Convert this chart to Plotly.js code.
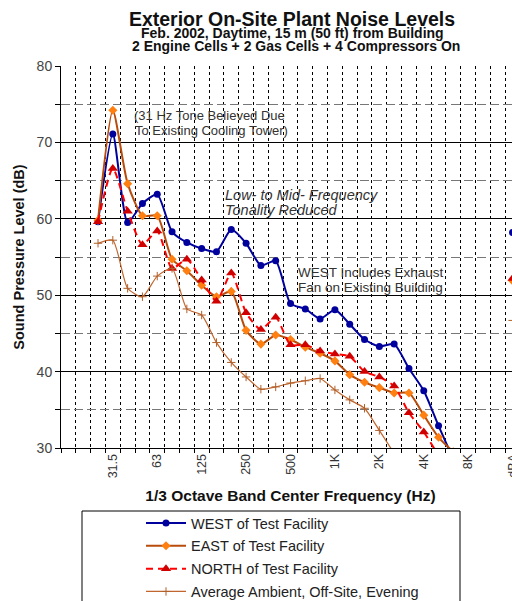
<!DOCTYPE html>
<html><head><meta charset="utf-8">
<script src="https://cdn.plot.ly/plotly-3.0.1.min.js"></script>
<style>html,body{margin:0;padding:0;overflow:hidden;background:#fff}</style>
</head><body><div id="chart"></div>
<script>
const bands = ['16','20','25','31.5','40','50','63','80','100','125','160','200','250','315','400','500','630','800','1K','1.25K','1.6K','2K','2.5K','3.15K','4K','5K','6.3K','8K','10K','12.5K','dBA'];
const tickLabels = ['31.5','63','125','250','500','1K','2K','4K','8K','dBA'];
const west = [null,null,59.6,71.1,59.5,62.0,63.2,58.3,56.9,56.1,55.7,58.6,56.8,53.9,54.5,48.9,48.2,46.9,48.1,46.2,44.2,43.3,43.6,40.4,37.5,32.9,28.5,null,null,null,58.2];
const east = [null,null,59.8,74.2,64.6,60.4,60.4,54.7,53.2,51.3,49.8,50.5,45.4,43.6,44.8,44.2,43.2,42.4,41.4,39.6,38.6,37.9,37.2,37.2,34.3,31.4,29.5,null,null,null,51.9];
const north = [null,null,59.6,66.6,61.0,56.6,58.4,53.5,54.7,52.0,49.2,52.9,47.7,45.5,47.1,43.5,43.5,42.7,42.3,42.0,40.0,39.3,38.1,34.6,32.1,29.0,null,null,null,null,52.2];
const ambient = [null,null,56.8,57.2,50.9,49.8,52.5,53.5,48.2,47.4,43.8,41.2,39.3,37.7,38.0,38.5,38.8,39.1,37.6,36.3,35.2,32.3,29.3,null,null,null,null,null,null,null,46.7];
const seriesNames = ['WEST of Test Facility','EAST of Test Facility','NORTH of Test Facility','Average Ambient, Off-Site, Evening'];

const xi = bands.map((_, i) => i);
const FONT = '"Liberation Sans", Arial, Helvetica, sans-serif';

const traces = [
  {x: xi, y: west, name: seriesNames[0], mode: 'lines+markers', legendgroup: 'a',
   line: {color: '#00009C', width: 2, shape: 'spline', smoothing: 0.6},
   marker: {symbol: 'circle', size: 7, color: '#00009C'}},
  {x: xi, y: east, name: seriesNames[1], mode: 'lines+markers', legendgroup: 'b',
   line: {color: '#B84C0C', width: 2, shape: 'spline', smoothing: 0.6},
   marker: {symbol: 'diamond', size: 7, color: '#FF7F10'}},
  {x: xi, y: north, name: seriesNames[2], mode: 'lines+markers', legendgroup: 'c',
   line: {color: '#FF0000', width: 2, dash: '7px,5px', shape: 'spline', smoothing: 0.6},
   marker: {symbol: 'triangle-up', size: 9, color: '#D00000'}},
  {x: xi, y: ambient, name: seriesNames[3], mode: 'lines+markers', legendgroup: 'd',
   line: {color: '#C0662E', width: 1.2, shape: 'spline', smoothing: 0.6},
   marker: {symbol: 'cross-thin', size: 6, color: '#B0602A', line: {width: 1, color: '#B0602A'}}}
];

const W = 530, H = 601, L = 61, T = 66, B = 153, R = 10;
const pw = W - L - R, ph = H - T - B;
const px = v => (v - L) / pw;
const py = v => (H - B - v) / ph;

function note(text, x, y, size, anchor, color) {
  return {xref: 'paper', yref: 'paper', x: px(x), y: py(y), text: text, showarrow: false,
          font: {size: size, color: color || '#333'}, xanchor: anchor, yanchor: 'middle', borderpad: 0};
}

const layout = {
  width: W, height: H,
  margin: {l: L, r: R, t: T, b: B, autoexpand: false},
  paper_bgcolor: '#fff', plot_bgcolor: '#fff',
  font: {family: FONT, color: '#222'},
  showlegend: true,
  title: {text: '<b>Exterior On-Site Plant Noise Levels</b>', font: {size: 19.5, color: '#111'},
          xref: 'paper', x: px(292), xanchor: 'center', yref: 'container', y: 1 - 19.5/H, yanchor: 'middle'},
  xaxis: {
    range: [-0.5, bands.length - 0.5], type: 'linear', automargin: false,
    tickmode: 'array', tickvals: tickLabels.map(l => bands.indexOf(l)), ticktext: tickLabels,
    tickangle: -90, ticks: '', showgrid: false, zeroline: false,
    tickfont: {size: 12.5, color: '#333'},
    showline: true, linecolor: '#000', linewidth: 1,
    minor: {tickmode: 'array', tickvals: bands.map((_, i) => i - 0.5).concat([bands.length - 0.5]),
            ticks: 'outside', ticklen: 4, tickcolor: '#000',
            showgrid: true, gridcolor: '#000', gridwidth: 1, griddash: '3px,3px'},
    title: {text: '<b>1/3 Octave Band Center Frequency (Hz)</b>', font: {size: 15.5, color: '#111'}, standoff: 12}
  },
  yaxis: {
    range: [30, 80], dtick: 10, tick0: 30, ticks: 'outside', ticklen: 5, tickcolor: '#000', automargin: false,
    showgrid: true, gridcolor: '#000', gridwidth: 1, zeroline: false,
    showline: true, linecolor: '#000', linewidth: 1,
    tickfont: {size: 14, color: '#444'},
    minor: {dtick: 5, tick0: 30, ticks: 'outside', ticklen: 5, tickcolor: '#000',
            showgrid: true, gridcolor: '#777', gridwidth: 1, griddash: '9px,4px'},
    title: {text: '<b>Sound Pressure Level (dB)</b>', font: {size: 14.5, color: '#111'}, standoff: 8}
  },
  legend: {x: px(141), xanchor: 'left', y: py(507), yanchor: 'top',
           font: {size: 14.5, color: '#222'}, bgcolor: 'rgba(0,0,0,0)', borderwidth: 0,
           traceorder: 'grouped', tracegroupgap: 1, itemwidth: 40},
  shapes: [
    {type: 'rect', xref: 'paper', yref: 'paper', x0: px(82), x1: px(460), y0: py(640), y1: py(511),
     line: {color: '#000', width: 1}, fillcolor: 'rgba(0,0,0,0)', layer: 'below'}
  ],
  annotations: [
    note('<b>Feb. 2002, Daytime, 15 m (50 ft) from Building</b>', 292, 33, 14, 'center', '#111'),
    note('<b>2 Engine Cells + 2 Gas Cells + 4 Compressors On</b>', 296, 45.5, 14, 'center', '#111'),
    note('(31 Hz Tone Believed Due', 209, 115, 13, 'center'),
    note('To Existing Cooling Tower)', 211, 130, 13, 'center'),
    note('<i>Low- to Mid- Frequency</i>', 224, 195, 14.5, 'left'),
    note('<i>Tonality Reduced</i>', 224, 210, 14.5, 'left'),
    note('WEST Includes Exhaust', 297, 272, 13.5, 'left'),
    note('Fan on Existing Building', 297, 287, 13.5, 'left')
  ]
};

Plotly.newPlot('chart', traces, layout, {displayModeBar: false, staticPlot: true});
</script></body></html>
